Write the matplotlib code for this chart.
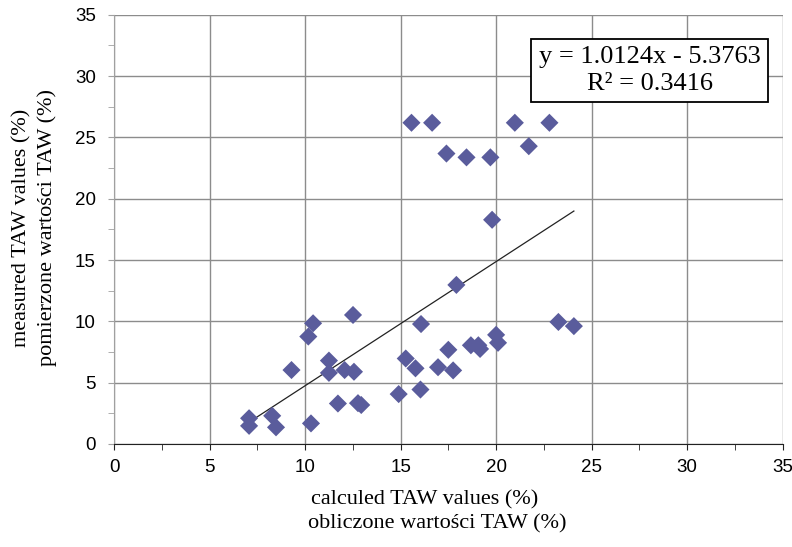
import matplotlib
matplotlib.use("Agg")
from matplotlib import pyplot as plt
from matplotlib.ticker import MultipleLocator

# calculated vs measured TAW values (%)
calc_taw = [7.07, 7.07, 8.28, 8.48, 9.29, 10.17, 10.42, 10.31, 11.25, 11.25,
            11.72, 12.07, 12.56, 12.51, 12.77, 12.94, 14.90, 15.27, 15.57, 15.78,
            16.04, 16.07, 16.65, 16.96, 17.40, 17.50, 17.75, 17.92, 18.45, 18.68,
            19.07, 19.16, 19.70, 19.79, 20.00, 20.10, 20.98, 21.71, 22.79, 23.26,
            24.07]
meas_taw = [2.10, 1.48, 2.30, 1.36, 6.03, 8.76, 9.84, 1.68, 6.80, 5.80,
            3.30, 6.03, 5.89, 10.52, 3.33, 3.18, 4.07, 6.97, 26.19, 6.17,
            4.44, 9.78, 26.19, 6.26, 23.68, 7.68, 6.00, 12.97, 23.37, 8.05,
            8.05, 7.75, 23.37, 18.28, 8.90, 8.25, 26.19, 24.28, 26.19, 9.95,
            9.61]

slope = 1.0124
intercept = -5.3763
r2 = 0.3416

ticks = [0, 5, 10, 15, 20, 25, 30, 35]

fig = plt.figure(figsize=(7.92, 5.47), dpi=100)
ax = fig.add_axes([114 / 792, 1 - 444 / 547, 668.7 / 792, 429.3 / 547])

ax.scatter(calc_taw, meas_taw, marker='D', s=85, color='#5a5c9c',
           edgecolors='none', zorder=3)

# linear trend line over the data range
x0, x1 = min(calc_taw), max(calc_taw)
ax.plot([x0, x1], [slope * x0 + intercept, slope * x1 + intercept],
        color='#222222', lw=0.9, zorder=2)

ax.set_xlim(0, 35)
ax.set_ylim(0, 35)
ax.set_xticks(ticks)
ax.set_yticks(ticks)
ax.xaxis.set_minor_locator(MultipleLocator(2.5))
ax.yaxis.set_minor_locator(MultipleLocator(2.5))
ax.grid(True, which='major', color='#8c8c8c', lw=1.0)
ax.set_axisbelow(True)

for side in ['top', 'right']:
    ax.spines[side].set_visible(False)
ax.spines['left'].set_color('#a0a0a0')
ax.spines['bottom'].set_color('#222222')
ax.spines['bottom'].set_zorder(4)

ax.tick_params(axis='both', which='both', direction='out', length=4,
               labelsize=13.5)
ax.tick_params(axis='y', which='both', color='#a0a0a0', pad=9)
ax.tick_params(axis='x', which='both', color='#222222', pad=7)
for lab in ax.get_xticklabels() + ax.get_yticklabels():
    lab.set_fontfamily('Liberation Sans')

ax.text(0.801, 0.87,
        'y = %.4fx - %.4f\nR\u00b2 = %.4f' % (slope, -intercept, r2),
        transform=ax.transAxes, ha='center', va='center',
        multialignment='center', fontsize=19, family='Liberation Serif',
        linespacing=1.3,
        bbox=dict(boxstyle='square,pad=0.28', fc='white', ec='black', lw=1.3),
        zorder=5)

serif = 'Liberation Serif'
fig.text(425 / 792, 1 - 500 / 547, 'calculed TAW values (%)', ha='center',
         va='center', fontsize=16, family=serif)
fig.text(437 / 792, 1 - 524 / 547, 'obliczone warto\u015bci TAW (%)',
         ha='center', va='center', fontsize=16, family=serif)
fig.text(22 / 792, 1 - 228 / 547, 'measured TAW values (%)', ha='center',
         va='center', rotation=90, fontsize=16, family=serif)
fig.text(47 / 792, 1 - 228 / 547, 'pomierzone warto\u015bci TAW (%)',
         ha='center', va='center', rotation=90, fontsize=16, family=serif)

fig.savefig('out.png', dpi=100)
